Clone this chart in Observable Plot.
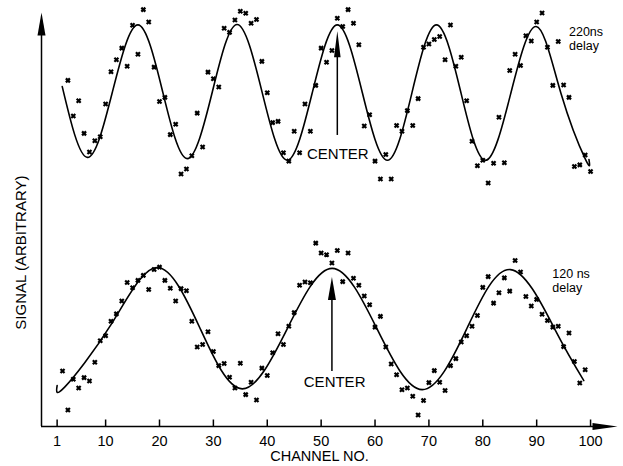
<!DOCTYPE html>
<html><head><meta charset="utf-8">
<script src="https://cdn.jsdelivr.net/npm/d3@7"></script>
<script src="https://cdn.jsdelivr.net/npm/@observablehq/plot@0.6"></script>
<style>body{margin:0;background:#fff} svg{display:block}</style>
</head><body><div id="chart"></div>
<script>
// ---- data (channel numbers, signal in arbitrary units) ----
const xTicks = [1, 10, 20, 30, 40, 50, 60, 70, 80, 90, 100];
const xLabel = "CHANNEL NO.";
const yLabel = "SIGNAL (ARBITRARY)";

// 220 ns delay: measured points
const ch220 = [3,4,5,6,7,8,9,10,11,12,13,14,15,16,17,18,19,20,21,22,23,24,25,26,27,28,29,30,31,32,33,34,35,36,37,38,39,40,41,42,43,44,45,46,47,48,49,50,51,52,53,54,55,56,57,58,59,60,61,62,63,64,65,66,67,68,69,70,71,72,73,74,75,76,77,78,79,80,81,82,83,84,85,86,87,88,89,90,91,92,93,94,95,96,97,98,99,100];
const sig220 = [83.6,75.0,78.7,70.8,66.3,69.0,70.0,77.9,85.7,88.6,91.4,87.0,96.9,89.9,100.7,97.7,86.8,78.5,79.5,70.5,73.0,61.0,62.2,65.4,75.7,67.5,85.6,84.0,82.0,96.2,95.2,98.2,100.3,99.8,97.4,98.3,88.2,80.6,73.4,73.7,66.1,64.1,71.3,66.1,77.9,71.3,82.4,91.4,88.0,90.8,98.6,96.6,100.7,97.4,92.2,72.6,75.3,64.1,59.8,65.7,59.8,72.7,71.3,76.3,72.7,79.2,91.6,92.4,93.5,94.2,88.6,97.0,87.0,89.2,78.7,68.9,63.0,64.3,58.8,63.6,74.7,63.7,86.0,89.9,87.2,94.4,93.1,97.7,99.9,91.6,82.4,93.0,82.5,79.5,62.8,63.2,65.6,61.6];
// 220 ns delay: fitted curve (peaks, troughs, crossings)
const fit220Ch  = [1.95,6.6,11.3,16.0,20.6,25.15,29.8,34.4,39.05,43.7,48.35,53.0,57.65,62.3,66.85,71.4,75.95,80.5,85.2,89.9,94.5,99.1,99.7];
const fit220Sig = [82.1,65.0,81.0,97.0,80.8,64.7,80.8,97.1,80.7,64.3,80.6,97.0,80.6,64.3,80.6,97.0,80.6,64.3,80.5,96.6,80.5,64.4,64.5];

// 120 ns delay: measured points
const ch120 = [2,3,4,5,6,7,8,9,10,11,12,13,14,15,16,17,18,19,20,21,22,23,24,25,26,27,28,29,30,31,32,33,34,35,36,37,38,39,40,41,42,43,44,45,46,47,48,49,50,51,52,53,54,55,56,57,58,59,60,61,62,63,64,65,66,67,68,69,70,71,72,73,74,75,76,77,78,79,80,81,82,83,84,85,86,87,88,89,90,91,92,93,94,95,96,97,98,99];
const sig120 = [13.4,4.0,11.4,9.3,11.8,11.0,15.5,20.7,21.9,25.4,27.2,30.3,34.8,33.5,35.3,36.5,33.1,37.9,38.5,35.3,33.4,30.3,33.3,32.8,25.4,19.2,19.8,22.9,18.1,14.7,15.2,11.9,9.3,15.3,7.7,10.7,6.4,14.1,12.3,17.8,22.4,19.8,24.2,27.5,34.1,34.9,34.7,44.3,41.9,41.5,39.5,42.5,35.0,41.9,35.8,34.1,31.5,29.4,24.0,26.6,19.2,15.1,12.5,8.9,9.3,7.3,2.8,6.3,10.6,13.5,10.7,8.7,14.7,16.4,20.4,21.9,24.2,26.8,33.6,36.2,29.8,32.3,35.9,32.7,40.1,37.3,31.4,29.1,30.7,27.1,25.6,24.0,24.2,19.3,22.6,15.7,10.5,13.7];
// 120 ns delay: fitted curve
const fit120Ch  = [1.0,2.4,11.0,19.6,27.5,35.35,43.7,52.05,60.4,68.75,76.95,85.15,93.4,98.75];
const fit120Sig = [9.9,9.5,24.6,38.4,23.8,9.1,23.6,38.2,23.5,8.9,23.4,37.9,23.4,11.1];

// ---- tables ----
const pts = (c, s) => c.map((ch, i) => ({ch, sig: s[i]}));
const pts220 = pts(ch220, sig220), pts120 = pts(ch120, sig120);
const fit220 = pts(fit220Ch, fit220Sig), fit120 = pts(fit120Ch, fit120Sig);

const xMin = -1.9, xMax = 105;
const font = "Liberation Sans, Arial, sans-serif";

// ---- custom symbols ----
const marker = {draw(c) { const s = 2.0; c.moveTo(-s, -s); c.lineTo(s, s); c.moveTo(s, -s); c.lineTo(-s, s); }};
const tickUp = {draw(c) { c.moveTo(0, 0); c.lineTo(0, -7); }};
const headUp = (len, w) => ({draw(c) { c.moveTo(0, 0); c.lineTo(-w, len); c.lineTo(w, len); c.closePath(); }});
const headRight = {draw(c) { c.moveTo(0, 0); c.lineTo(-25, -3.5); c.lineTo(-25, 3.5); c.closePath(); }};

const chart = Plot.plot({
  width: 623, height: 466,
  marginLeft: 41, marginRight: 6, marginTop: 12, marginBottom: 40,
  style: {fontFamily: font, background: "#fff", color: "#000"},
  x: {domain: [xMin, xMax], axis: null},
  y: {domain: [0, 100], axis: null},
  marks: [
    // axes
    Plot.ruleX([xMin], {y1: 0, y2: 97, stroke: "#000", strokeWidth: 1.5}),
    Plot.dot([{x: xMin, y: 100}], {x: "x", y: "y", symbol: headUp(23, 4), fill: "#000", stroke: "none"}),
    Plot.ruleY([0], {x1: xMin, x2: xMax - 3, stroke: "#000", strokeWidth: 1.7}),
    Plot.dot([{x: xMax, y: 0}], {x: "x", y: "y", symbol: headRight, fill: "#000", stroke: "none"}),
    Plot.dot(xTicks, {x: d => d, y: 0, symbol: tickUp, fill: "none", stroke: "#000", strokeWidth: 1.5}),
    Plot.text(xTicks, {x: d => d, y: 0, dy: 15, text: d => String(d), lineAnchor: "middle", fontSize: 14.5, fill: "#000"}),
    Plot.text([xLabel], {x: 49.7, y: 0, dy: 30, text: d => d, lineAnchor: "middle", fontSize: 14.5, fill: "#000"}),
    Plot.text([yLabel], {x: -5.6, y: 42, rotate: -90, text: d => d, lineAnchor: "middle", fontSize: 15, fill: "#000"}),
    // fitted curves
    Plot.line(fit220, {x: "ch", y: "sig", curve: "natural", stroke: "#000", strokeWidth: 1.6}),
    Plot.line(fit120, {x: "ch", y: "sig", curve: "natural", stroke: "#000", strokeWidth: 1.6}),
    // measured points
    Plot.dot(pts220, {x: "ch", y: "sig", symbol: marker, fill: "none", stroke: "#000", strokeWidth: 2.2}),
    Plot.dot(pts120, {x: "ch", y: "sig", symbol: marker, fill: "none", stroke: "#000", strokeWidth: 2.2}),
    // CENTER arrows
    Plot.ruleX([53], {y1: 70.3, y2: 90, stroke: "#000", strokeWidth: 1.5}),
    Plot.dot([{x: 53, y: 95.5}], {x: "x", y: "y", symbol: headUp(26, 3.3), fill: "#000", stroke: "none"}),
    Plot.ruleX([52], {y1: 13.3, y2: 31, stroke: "#000", strokeWidth: 1.5}),
    Plot.dot([{x: 52, y: 36.1}], {x: "x", y: "y", symbol: headUp(23, 4), fill: "#000", stroke: "none"}),
    Plot.text(["CENTER"], {x: 53.1, y: 64.7, text: d => d, lineAnchor: "bottom", fontSize: 15, fill: "#000"}),
    Plot.text(["CENTER"], {x: 52.5, y: 9.5, text: d => d, lineAnchor: "bottom", fontSize: 15, fill: "#000"}),
    // delay labels
    Plot.text(["220ns", "delay"], {x: 96.0, y: [94.3, 90.9], text: d => d, textAnchor: "start", lineAnchor: "bottom", fontSize: 12.5, fill: "#000"}),
    Plot.text(["120 ns", "delay"], {x: 92.9, y: [35.8, 32.4], text: d => d, textAnchor: "start", lineAnchor: "bottom", fontSize: 12.5, fill: "#000"})
  ]
});
document.getElementById("chart").appendChild(chart);
</script>
</body></html>
